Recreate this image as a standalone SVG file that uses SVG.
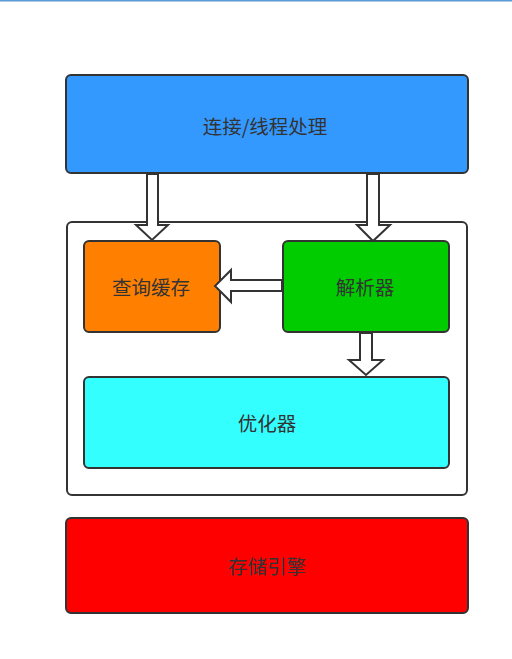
<svg xmlns="http://www.w3.org/2000/svg" width="512" height="659" viewBox="0 0 512 659">
<style>
.box{stroke:#333;stroke-width:2}
.arr{fill:#fff;stroke:#333;stroke-width:2;stroke-linejoin:miter}
text{font-family:"Noto Sans CJK SC","Noto Sans",sans-serif;font-size:19.5px;fill:#333;text-anchor:middle;dominant-baseline:central}
</style>
<rect x="0" y="0" width="512" height="659" fill="#fff"/>
<rect x="0" y="0" width="512" height="1.5" fill="#5b9bd5"/>
<g id="connection">
<rect class="box" x="66" y="75" width="402" height="98" rx="5" fill="#3399ff"/>
<text x="265" y="125">连接/线程处理</text>
</g>
<g id="container">
<rect class="box" x="67" y="222" width="400" height="273" rx="5" fill="#fff"/>
</g>
<g id="query-cache">
<rect class="box" x="84" y="241" width="136" height="91" rx="5" fill="#ff8000"/>
<text x="151" y="286">查询缓存</text>
</g>
<g id="parser">
<rect class="box" x="283" y="241" width="166" height="91" rx="5" fill="#00cc00"/>
<text x="365" y="286">解析器</text>
</g>
<g id="optimizer">
<rect class="box" x="84" y="377" width="365" height="91" rx="5" fill="#33ffff"/>
<text x="267" y="422">优化器</text>
</g>
<g id="storage">
<rect class="box" x="66" y="518" width="402" height="95" rx="5" fill="#ff0000"/>
<text x="267" y="565">存储引擎</text>
</g>
<g id="connectors">
<path class="arr" d="M147,174 L158,174 L158,225 L168,225 L152,240 L136,225 L147,225 Z"/>
<path class="arr" d="M367,174 L379,174 L379,225 L390,225 L373,241 L357,225 L367,225 Z"/>
<path class="arr" d="M282,280 L231,280 L231,270 L215,286 L231,302 L231,291 L282,291 Z"/>
<path class="arr" d="M360,333 L372,333 L372,360 L383,360 L366,375 L349,360 L360,360 Z"/>
</g>
</svg>
